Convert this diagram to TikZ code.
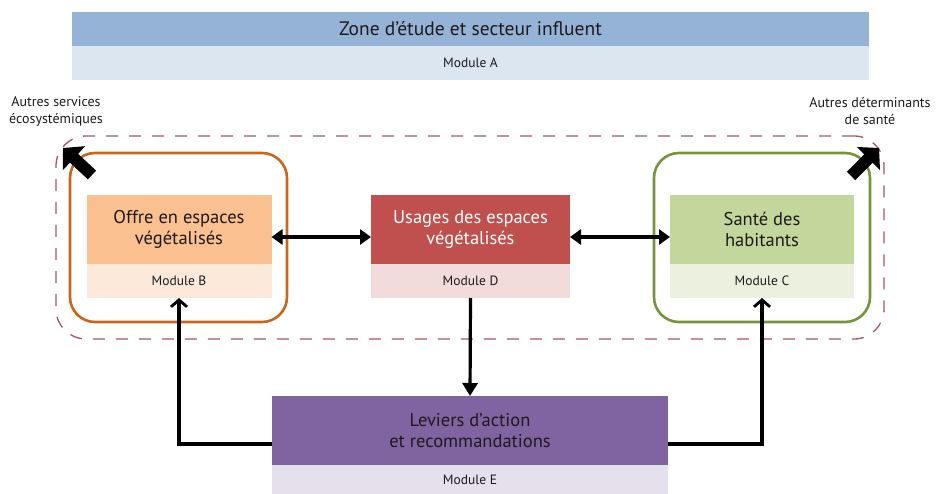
\documentclass[tikz,border=0pt]{standalone}
\usepackage{fontspec}
\setmainfont{PT Sans}
\usetikzlibrary{arrows.meta}

\definecolor{txt}{HTML}{1E1A1C}
\definecolor{blueA}{HTML}{95B3D7}
\definecolor{blueAl}{HTML}{DCE6F1}
\definecolor{orB}{HTML}{FAC090}
\definecolor{orBl}{HTML}{FDE9D9}
\definecolor{orLine}{HTML}{C8661E}
\definecolor{redD}{HTML}{C0504D}
\definecolor{redDl}{HTML}{F2DCDB}
\definecolor{grC}{HTML}{C3D69B}
\definecolor{grCl}{HTML}{EBF1DE}
\definecolor{grLine}{HTML}{77933C}
\definecolor{puE}{HTML}{8064A2}
\definecolor{puEl}{HTML}{E5E0EC}
\definecolor{zoneLine}{HTML}{A85563}

\tikzset{
  band/.style={rectangle, inner sep=0pt, outer sep=0pt, align=center, text=txt},
  title/.style={band, font=\fontsize{18.5}{21}\selectfont},
  modlabel/.style={band, font=\fontsize{13.5}{15}\selectfont},
  frame/.style={rectangle, rounded corners=25pt, line width=2.6pt, inner sep=0pt},
  note/.style={align=center, text=txt, inner sep=0pt, font=\fontsize{14}{17}\selectfont},
  link/.style={line width=3.2pt, black},
  twoway/.style={link, {Triangle[length=11pt,width=15pt]}-{Triangle[length=11pt,width=15pt]}},
  oneway/.style={link, -{Triangle[length=13pt,width=15pt]}},
  feedback/.style={link, -{Straight Barb[length=7pt,width=16pt,line width=2.8pt]}},
  outward/.style={line width=12pt, black, -{Triangle[length=15pt,width=32pt]}}
}

\begin{document}
\begin{tikzpicture}[x=1pt, y=-1pt]
\useasboundingbox (0,0) rectangle (941,494);

% zone around modules B, C, D
\node[rectangle, draw=zoneLine, line width=1.3pt, dash pattern=on 12pt off 11pt,
      rounded corners=30pt, minimum width=828pt, minimum height=203pt, inner sep=0pt]
      (zone) at (470,237.5) {};

% module A
\node[band, fill=blueA, minimum width=797pt, minimum height=34pt,
      font=\fontsize{19.5}{21}\selectfont] (A) at (470.5,29) {Zone d’étude et secteur influent};
\node[modlabel, fill=blueAl, minimum width=797pt, minimum height=34pt, anchor=north]
      (Am) at (A.south) {Module A};

% module B
\node[frame, draw=orLine, minimum width=217pt, minimum height=169pt] (Bf) at (178.5,237.5) {};
\node[title, fill=orB, minimum width=185pt, minimum height=69pt] (B) at (179,229.5)
      {Offre en espaces\\végétalisés};
\node[modlabel, fill=orBl, minimum width=185pt, minimum height=34pt, anchor=north]
      (Bm) at (B.south) {Module B};

% module D
\node[title, fill=redD, text=white, minimum width=199pt, minimum height=69pt] (D) at (470.5,229.5)
      {Usages des espaces\\végétalisés};
\node[modlabel, fill=redDl, minimum width=199pt, minimum height=34pt, anchor=north]
      (Dm) at (D.south) {Module D};

% module C
\node[frame, draw=grLine, minimum width=216pt, minimum height=169pt] (Cf) at (762,237.5) {};
\node[title, fill=grC, minimum width=184pt, minimum height=69pt] (C) at (762,229.5)
      {Santé des\\habitants};
\node[modlabel, fill=grCl, minimum width=184pt, minimum height=34pt, anchor=north]
      (Cm) at (C.south) {Module C};

% module E
\node[title, fill=puE, minimum width=396pt, minimum height=69pt] (E) at (470,430.5)
      {Leviers d’action\\et recommandations};
\node[modlabel, fill=puEl, minimum width=396pt, minimum height=29pt, anchor=north]
      (Em) at (E.south) {Module E};

% side notes
\node[note] (svc) at (56,111) {Autres services\\écosystémiques};
\node[note] (det) at (870,111) {Autres déterminants\\de santé};

% links between modules
\draw[twoway] (B.east |- 0,237) -- (D.west |- 0,237);
\draw[twoway] (D.east |- 0,237) -- (C.west |- 0,237);
\draw[oneway] (Dm.south) -- (E.north);
\coordinate (Eleft) at (E.west |- 0,444);
\coordinate (Eright) at (E.east |- 0,444);
\draw[feedback] (Eleft) -| (Bm.south);
\draw[feedback] (Eright) -| (Cm.south);

% outward arrows at the frame corners
\coordinate (Bcorner) at (92,175);
\coordinate (Btip) at (63,148);
\coordinate (Ccorner) at (851,176);
\coordinate (Ctip) at (879,148);
\draw[outward] (Bcorner) -- (Btip);
\draw[outward] (Ccorner) -- (Ctip);
\end{tikzpicture}
\end{document}
